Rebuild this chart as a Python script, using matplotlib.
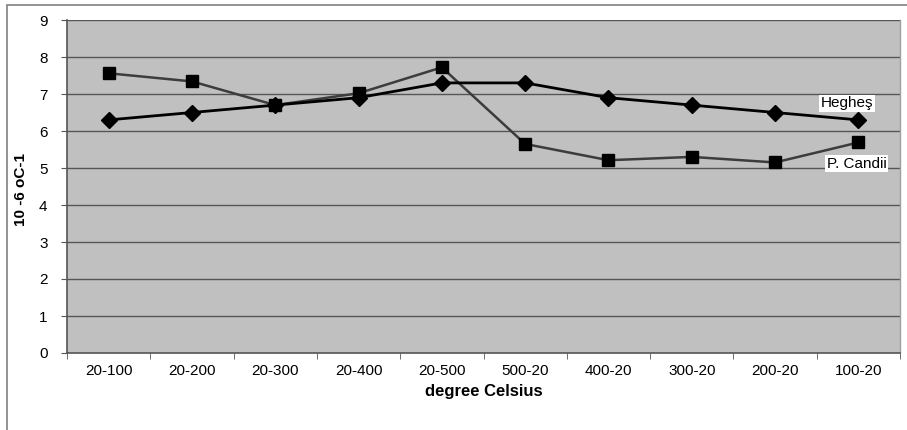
import matplotlib
matplotlib.use("Agg")
import matplotlib.pyplot as plt
from matplotlib.patches import Rectangle

categories = ["20-100", "20-200", "20-300", "20-400", "20-500",
              "500-20", "400-20", "300-20", "200-20", "100-20"]
heghes = [6.3, 6.5, 6.7, 6.9, 7.3, 7.3, 6.9, 6.7, 6.5, 6.3]
pcandii = [7.56, 7.34, 6.7, 7.02, 7.72, 5.65, 5.21, 5.3, 5.15, 5.69]
yticks = list(range(0, 10))

plt.rcParams['font.family'] = ['Liberation Sans', 'DejaVu Sans']

fig = plt.figure(figsize=(9.07, 4.30), dpi=100)
fig.patches.append(Rectangle((7/907, -0.1), 1.2, 1 - 5/430 + 0.1,
                             transform=fig.transFigure, fill=False,
                             edgecolor='#808080', linewidth=1.2))

ax = fig.add_axes([67/907, (430-353)/430, (900-67)/907, (353-20)/430])
ax.set_facecolor('#c0c0c0')
x = list(range(len(categories)))

ax.plot(x, pcandii, color='#3c3c3c', linewidth=1.8, marker='s',
        markersize=8.5, markerfacecolor='black', markeredgecolor='black', zorder=3)
ax.plot(x, heghes, color='black', linewidth=2.0, marker='D',
        markersize=8, markerfacecolor='black', markeredgecolor='black', zorder=4)

ax.set_xlim(-0.5, len(categories) - 0.5)
ax.set_ylim(0, 9)
ax.set_yticks(yticks)
ax.set_yticklabels([str(v) for v in yticks], fontsize=11)
for v in yticks[1:]:
    ax.axhline(v, color='#555555', linewidth=1.0, zorder=1)

ax.set_xticks(x)
ax.set_xticklabels(categories, fontsize=11)
ax.tick_params(axis='x', length=0, pad=8)
ax.set_xticks([i - 0.5 for i in range(len(categories) + 1)], minor=True)
ax.tick_params(axis='x', which='minor', length=4, color='#555555', direction='out')
ax.tick_params(axis='y', length=4, color='#555555', direction='out', pad=10)

for s in ['left', 'bottom']:
    ax.spines[s].set_color('#555555')
    ax.spines[s].set_linewidth(1.2)
ax.spines['top'].set_visible(False)
ax.spines['right'].set_color('#a0a0a0')
ax.spines['right'].set_linewidth(1.0)

ax.set_xlabel("degree Celsius", fontsize=12, fontweight='bold', labelpad=4)
ax.set_ylabel("10 -6 oC-1", fontsize=11, fontweight='bold')
ax.yaxis.set_label_coords(-0.047, 0.49)

bbox = dict(boxstyle='square,pad=0.1', facecolor='white', edgecolor='none')
ax.text(8.55, 6.75, "Hegheş", fontsize=11, ha='left', va='center', bbox=bbox, zorder=5)
ax.text(8.62, 5.12, "P. Candii", fontsize=11, ha='left', va='center', bbox=bbox, zorder=5)

fig.savefig("out.png", dpi=100)
